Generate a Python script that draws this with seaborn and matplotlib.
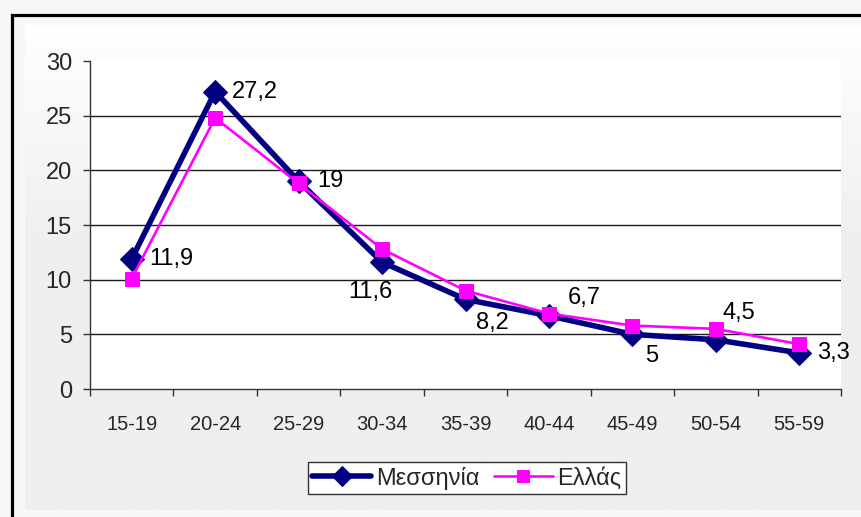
import numpy as np
import pandas as pd
import matplotlib.pyplot as plt
from matplotlib.lines import Line2D
import seaborn as sns

# --- data ---
age_groups = ['15-19', '20-24', '25-29', '30-34', '35-39',
              '40-44', '45-49', '50-54', '55-59']
messinia = [11.9, 27.2, 19.0, 11.6, 8.2, 6.7, 5.0, 4.5, 3.3]
ellas = [10.1, 24.8, 18.8, 12.8, 9.0, 6.9, 5.8, 5.5, 4.1]

# label offsets in pixels for the Messinia values (dx, dy, ha)
label_offsets = [(18, 0, 'left'), (17, 0, 'left'), (19, 0, 'left'),
                 (-12, -30, 'center'), (10, -24, 'left'), (19, 18, 'left'),
                 (13, -22, 'left'), (7, 27, 'left'), (18, 0, 'left')]

sns.set_style('white')
plt.rcParams['font.family'] = ['Liberation Sans', 'DejaVu Sans']

df_m = pd.DataFrame({'age': age_groups, 'value': messinia, 'region': 'Μεσσηνία'})
df_e = pd.DataFrame({'age': age_groups, 'value': ellas, 'region': 'Ελλάς'})

W, H = 861, 517
fig = plt.figure(figsize=(W / 100, H / 100), dpi=100)
fig.patch.set_facecolor('#f8f8f8')

# chart area background: white at top fading to light gray
bg = fig.add_axes([25 / W, 7 / H, 1 - 25 / W, (510 - 25) / H], zorder=0)
grad = np.linspace(0, 1, 256)
grad = np.clip(grad / 0.45, 0, 1)[:, None]
cmap = sns.blend_palette(['#ffffff', '#efefef'], as_cmap=True)
bg.imshow(grad, aspect='auto', cmap=cmap, extent=[0, 1, 0, 1], origin='upper')
bg.set_axis_off()

# outer black frame (top and left edges visible)
fig.add_artist(Line2D([12 / W, 12 / W, 1.0], [0.0, 1 - 15 / H, 1 - 15 / H],
                      transform=fig.transFigure, color='black', lw=2.3,
                      solid_joinstyle='miter'))

ax = fig.add_axes([90 / W, 1 - 389 / H, (841 - 90) / W, (389 - 61) / H], zorder=1)
ax.set_facecolor('white')

sns.lineplot(data=df_m, x='age', y='value', color='#000080', lw=4.0,
             marker='D', markersize=12, markeredgecolor='#000080',
             sort=False, ax=ax, label='Μεσσηνία')
sns.lineplot(data=df_e, x='age', y='value', color='#ff00ff', lw=1.9,
             marker='s', markersize=10.5, markeredgecolor='#ff00ff',
             sort=False, ax=ax, label='Ελλάς')

for i, (v, (dx, dy, ha)) in enumerate(zip(messinia, label_offsets)):
    txt = f'{v:g}'.replace('.', ',')
    ax.annotate(txt, (i, v), xytext=(dx, dy), textcoords='offset pixels',
                ha=ha, va='center', fontsize=17, color='black')

ax.set_xlim(-0.5, len(age_groups) - 0.5)
ax.set_ylim(0, 30)
ax.set_yticks(range(0, 31, 5))
ax.set_xlabel('')
ax.set_ylabel('')

for y in range(5, 30, 5):
    ax.axhline(y, color='#1a1a1a', lw=1.0, zorder=0.5)

for s in ['top', 'right']:
    ax.spines[s].set_visible(False)
for s in ['left', 'bottom']:
    ax.spines[s].set_color('#333333')
    ax.spines[s].set_linewidth(1.0)

ax.tick_params(axis='y', which='major', left=True, length=5, width=1,
               color='#333333', labelsize=17, pad=8)
ax.set_xticks(np.arange(-0.5, len(age_groups)), minor=True)
ax.tick_params(axis='x', which='major', bottom=False, length=0,
               labelsize=14.5, pad=19)
ax.tick_params(axis='x', which='minor', bottom=True, length=5, width=1,
               color='#333333')

leg = ax.legend(loc='center', bbox_to_anchor=(467 / W, 1 - 478 / H),
                bbox_transform=fig.transFigure, ncol=2, fontsize=17,
                frameon=True, fancybox=False, framealpha=1, edgecolor='#333333',
                handlelength=2.5, columnspacing=0.6, handletextpad=0.2,
                borderpad=0.2, borderaxespad=0, markerscale=0.85)
leg.get_frame().set_linewidth(1.0)

fig.savefig('out.png', dpi=100, facecolor=fig.get_facecolor())
